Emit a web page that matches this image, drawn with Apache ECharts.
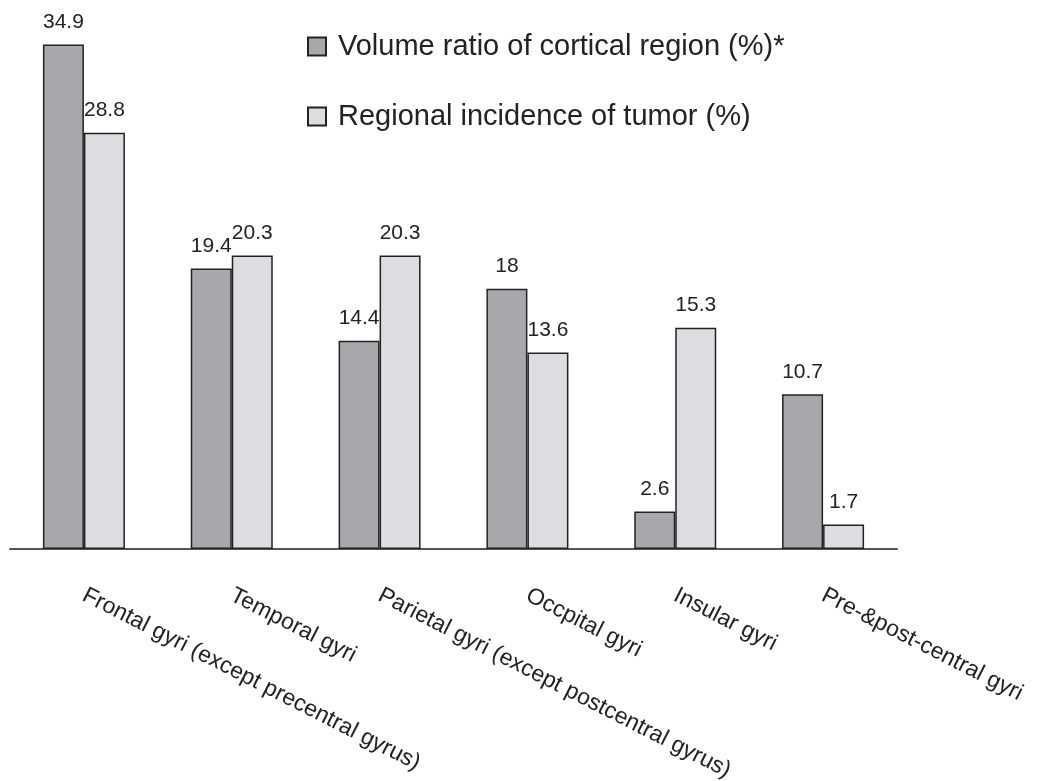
<!DOCTYPE html>
<html>
<head>
<meta charset="utf-8">
<script src="https://cdn.jsdelivr.net/npm/echarts@6/dist/echarts.min.js"></script>
<style>html,body{margin:0;padding:0;background:#fff}#c{width:1037px;height:781px}</style>
</head>
<body>
<div id="c"></div>
<script>
const categories = ["Frontal gyri (except precentral gyrus)", "Temporal gyri", "Parietal gyri (except postcentral gyrus)", "Occpital gyri", "Insular gyri", "Pre-&post-central gyri"];
const volumeRatio = [34.9, 19.4, 14.4, 18, 2.6, 10.7];
const tumorIncidence = [28.8, 20.3, 20.3, 13.6, 15.3, 1.7];
const seriesNames = ["Volume ratio of cortical region (%)*", "Regional incidence of tumor (%)"];

const FONT = 'Liberation Sans, Arial, Helvetica, sans-serif';
const chart = echarts.init(document.getElementById('c'), null, {renderer: 'canvas'});
const labelCfg = {show: true, position: 'top', distance: 12, color: '#222', fontSize: 21, fontFamily: FONT};
chart.setOption({
  animation: false,
  backgroundColor: '#fff',
  legend: {
    orient: 'vertical', left: 302, top: 27, itemWidth: 18, itemHeight: 18, itemGap: 41,
    icon: 'rect',
    textStyle: {fontSize: 29, color: '#222', fontFamily: FONT, padding: [0, 0, 0, 7]},
    data: seriesNames
  },
  grid: {left: 10, right: 140, top: 43, bottom: 232, containLabel: false, outerBoundsMode: 'none'},
  xAxis: {
    type: 'category', data: categories,
    axisLine: {lineStyle: {color: '#555', width: 2}},
    axisTick: {show: false},
    axisLabel: {rotate: -27, interval: 0, margin: 45, fontSize: 23, color: '#222', fontFamily: FONT}
  },
  yAxis: {type: 'value', min: 0, max: 35, show: false, splitLine: {show: false}},
  series: [
    {name: seriesNames[0], type: 'bar', data: volumeRatio, barWidth: 41, barGap: '0%',
     itemStyle: {color: '#a7a8ab', borderColor: '#222', borderWidth: 1.5}, label: labelCfg},
    {name: seriesNames[1], type: 'bar', data: tumorIncidence, barWidth: 41, barGap: '0%',
     itemStyle: {color: '#dcdde0', borderColor: '#222', borderWidth: 1.5}, label: labelCfg}
  ]
});
</script>
</body>
</html>
